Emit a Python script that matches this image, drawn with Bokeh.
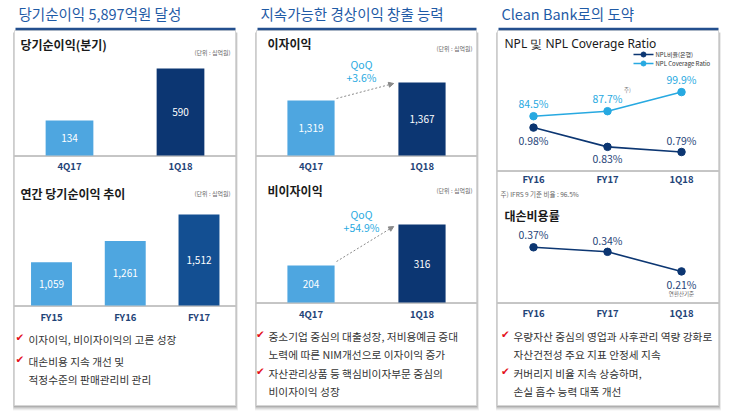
from bokeh.plotting import figure
from bokeh.models import Range1d, Arrow, NormalHead
from bokeh.embed import file_html
from bokeh.resources import INLINE
from bokeh.core.properties import value

# ---------------- data ----------------
quarters = ["4Q17", "1Q18"]
net_income_quarterly = [134, 590]
years = ["FY15", "FY16", "FY17"]
net_income_annual = [1059, 1261, 1512]
interest_income = [1319, 1367]
interest_qoq = "+3.6%"
non_interest_income = [204, 316]
non_interest_qoq = "+54.9%"
npl_periods = ["FY16", "FY17", "1Q18"]
npl_ratio = [0.98, 0.83, 0.79]
npl_coverage = [84.5, 87.7, 99.9]
credit_cost_ratio = [0.37, 0.34, 0.21]
ifrs9_coverage = 96.5

headers = ["당기순이익 5,897억원 달성", "지속가능한 경상이익 창출 능력", "Clean Bank로의 도약"]
subtitles = ["당기순이익(분기)", "연간 당기순이익 추이", "이자이익", "비이자이익",
             "NPL 및 NPL Coverage Ratio", "대손비용률"]
unit_text = "(단위 : 십억원)"
legend_labels = ["NPL비율(은행)", "NPL Coverage Ratio"]
bullets_left = [["이자이익, 비이자이익의 고른 성장"],
                ["대손비용 지속 개선 및", "적정수준의 판매관리비 관리"]]
bullets_mid = [["중소기업  중심의 대출성장, 저비용예금 증대", "노력에 따른  NIM개선으로 이자이익 증가"],
               ["자산관리상품 등 핵심비이자부문 중심의", "비이자이익 성장"]]
bullets_right = [["우량자산 중심의 영업과 사후관리 역량 강화로", "자산건전성 주요 지표 안정세 지속"],
                 ["커버리지 비율 지속 상승하며,", "손실 흡수 능력 대폭 개선"]]

# ---------------- styles ----------------
FONT = "Noto Sans CJK KR"
HEAD_BLUE = "#1f5ba6"
RULE_BLUE = "#234f8e"
NAVY = "#0c3672"
NAVY_TXT = "#1f4478"
LIGHT = "#4ea6e0"
FY17_C = "#134f92"
CYAN = "#27a9e1"
GRAY_LINE = "#8c8c8c"
TXT = "#333333"
RED = "#e4101c"

# screen frame (page pixel coordinates)
W, H = 730, 416
SX0, SX1, SY0, SY1 = 0, W, 0, H

p = figure(width=W, height=H, x_range=Range1d(SX0, SX1), y_range=Range1d(SY1, SY0),
           output_backend="svg", toolbar_location=None, min_border=0,
           x_axis_location=None, y_axis_location=None)
p.grid.visible = False
p.outline_line_color = None
p.background_fill_color = "white"
p.border_fill_color = "white"


def xrange_map(pa, pb, da, db):
    s = (db - da) / (pb - pa)
    return Range1d(start=da + (SX0 - pa) * s, end=da + (SX1 - pa) * s)


def yrange_map(pa, pb, da, db):
    s = (db - da) / (pb - pa)  # data per screen px (downwards)
    return Range1d(start=da + (SY1 - pa) * s, end=da + (SY0 - pa) * s), s


def txt(x, y, s, size, color, align="left", style="normal", font=FONT,
        xr="default", yr="default", baseline="middle"):
    if not isinstance(x, (list, tuple)):
        x, y, s = [x], [y], [s]
    p.text(x=list(x), y=list(y), text=list(s), text_font=value(font),
           text_font_size=f"{size}px", text_color=color, text_align=align,
           text_baseline=baseline, text_font_style=style,
           x_range_name=xr, y_range_name=yr)


# ---------------- sub-chart scales ----------------
bases = {"lt": -173, "lb": 650, "mt": 1172, "mb": 103}
xr = {
    "lt": xrange_map(69, 180, 0, 1),
    "lb": xrange_map(51, 198.5, 0, 2),
    "mt": xrange_map(310.5, 421.5, 0, 1),
    "mb": xrange_map(310.5, 421.5, 0, 1),
    "rt": xrange_map(533, 681, 0, 2),
    "rb": xrange_map(533, 681, 0, 2),
}
yr = {}
ys = {}
yr["lt"], ys["lt"] = yrange_map(155, 68, bases["lt"], max(net_income_quarterly))
yr["lb"], ys["lb"] = yrange_map(305, 214, bases["lb"], max(net_income_annual))
yr["mt"], ys["mt"] = yrange_map(155, 82, bases["mt"], max(interest_income))
yr["mb"], ys["mb"] = yrange_map(302, 224, bases["mb"], max(non_interest_income))
yr["cov"], ys["cov"] = yrange_map(115.7, 91.6, npl_coverage[0], npl_coverage[-1])
yr["npl"], ys["npl"] = yrange_map(127.1, 151.5, npl_ratio[0], npl_ratio[-1])
yr["cc"], ys["cc"] = yrange_map(246.8, 270.9, credit_cost_ratio[0], credit_cost_ratio[-1])
p.extra_x_ranges = {k: v for k, v in xr.items()}
p.extra_y_ranges = {k: v for k, v in yr.items()}

# ---------------- panels ----------------
panels = [(14, 235), (256, 476), (497, 718)]
for L, R in panels:
    for d, a in [(5, 0.05), (4, 0.06), (3, 0.08), (2, 0.10), (1, 0.13)]:
        p.quad(left=[L - 0.5 - d * 0.2], right=[R + d * 0.5], top=[32], bottom=[405 + d],
               fill_color="black", fill_alpha=a, line_color=None)
    p.quad(left=[L], right=[R], top=[30], bottom=[405], fill_color="white",
           line_color="#d6d6d6", line_width=1)
    p.segment(x0=[L + 1], x1=[R], y0=[28.5], y1=[28.5], line_color=RULE_BLUE, line_width=2.5)

# headers
for (L, R), h in zip(panels, headers):
    txt(L + 4, 12.5, h, 14.5, HEAD_BLUE)

# subtitles
txt(20, 44, subtitles[0], 12, "#1a1a1a", style="bold")
txt(20, 193, subtitles[1], 12, "#1a1a1a", style="bold")
txt(267, 43, subtitles[2], 12, "#1a1a1a", style="bold")
txt(267, 190, subtitles[3], 12, "#1a1a1a", style="bold")
txt(504, 43, subtitles[4], 12, "#1a1a1a", font="Noto Sans")
txt(504, 215, subtitles[5], 12, "#1a1a1a", style="bold")

# unit labels
for x, y in [(230, 52), (230, 193), (472, 48), (472, 190)]:
    txt(x, y, unit_text, 6, "#666666", align="right")

# baselines
for (x0, x1, y) in [(14, 235, 155.5), (14, 235, 305.5), (256, 476, 155.5), (256, 476, 302.5),
                    (497, 718, 170.5), (497, 718, 302.5)]:
    p.segment(x0=[x0], x1=[x1], y0=[y], y1=[y], line_color=GRAY_LINE, line_width=1)


# ---------------- bar charts ----------------
def bars(key, vals, cats, width, colors, cat_y):
    idx = list(range(len(vals)))
    p.vbar(x=idx, width=width, bottom=bases[key], top=vals, fill_color=colors,
           line_color=None, x_range_name=key, y_range_name=key)
    mids = [(bases[key] + v) / 2 for v in vals]
    txt(idx, mids, [f"{v:,}" for v in vals], 10, "white", align="center",
        xr=key, yr=key)
    txt(idx, [cat_y] * len(cats), cats, 9.5, NAVY_TXT, align="center", style="bold",
        xr=key)


bars("lt", net_income_quarterly, quarters, 0.43, [LIGHT, NAVY], 165.5)
bars("lb", net_income_annual, years, 0.555, [LIGHT, LIGHT, FY17_C], 316)
bars("mt", interest_income, quarters, 0.425, [LIGHT, NAVY], 165.5)
bars("mb", non_interest_income, quarters, 0.425, [LIGHT, NAVY], 313)


# QoQ arrows
def qoq(key, vals, off0, off1, label, ty):
    s = ys[key]
    arr = Arrow(x_start=0.23, y_start=vals[0] - off0 * s, x_end=0.745, y_end=vals[1] - off1 * s,
                line_color="#8a8a8a", line_width=1, line_dash="2 2",
                end=NormalHead(size=5, fill_color="#8a8a8a", line_color="#8a8a8a"),
                x_range_name=key, y_range_name=key)
    p.add_layout(arr)
    txt(361, ty, "QoQ", 10.5, CYAN, align="center")
    txt(361, ty + 13, label, 10.5, CYAN, align="center")


qoq("mt", interest_income, 2, -1, interest_qoq, 63.5)
qoq("mb", non_interest_income, 4, -2, non_interest_qoq, 213.5)

# ---------------- line charts ----------------
idx3 = list(range(len(npl_periods)))
p.line(idx3, npl_coverage, line_color=CYAN, line_width=1.6, x_range_name="rt", y_range_name="cov")
p.scatter(idx3, npl_coverage, size=7.5, fill_color=CYAN, line_color=CYAN, x_range_name="rt", y_range_name="cov")
p.line(idx3, npl_ratio, line_color=NAVY, line_width=1.6, x_range_name="rt", y_range_name="npl")
p.scatter(idx3, npl_ratio, size=7.5, fill_color=NAVY, line_color=NAVY, x_range_name="rt", y_range_name="npl")

cov_off = [-13, -13, -13]
txt(idx3, [v + o * ys["cov"] for v, o in zip(npl_coverage, cov_off)],
    [f"{v:.1f}%" for v in npl_coverage], 10.5, CYAN, align="center", xr="rt", yr="cov")
npl_off = [13, 12, -12]
txt(idx3, [v + o * ys["npl"] for v, o in zip(npl_ratio, npl_off)],
    [f"{v:.2f}%" for v in npl_ratio], 10.5, NAVY_TXT, align="center", xr="rt", yr="npl")
txt(627, 89, "주)", 5.5, "#777777", align="center")
txt(idx3, [178] * 3, npl_periods, 9.5, NAVY_TXT, align="center", style="bold", xr="rt")
txt(500, 193, f"주) IFRS 9 기준 비율 : {ifrs9_coverage}%", 6.5, "#666666")

# legend
for ly, col in [(54, NAVY), (63, CYAN)]:
    p.segment(x0=[633], x1=[653], y0=[ly], y1=[ly], line_color=col, line_width=1.5)
    p.scatter([643], [ly], size=5, fill_color=col, line_color=col)
txt(655, 54, legend_labels[0], 6, "#333333")
txt(655, 63, legend_labels[1], 6, "#333333")

# credit cost
p.line(idx3, credit_cost_ratio, line_color=NAVY, line_width=1.6, x_range_name="rb", y_range_name="cc")
p.scatter(idx3, credit_cost_ratio, size=7.5, fill_color=NAVY, line_color=NAVY, x_range_name="rb", y_range_name="cc")
cc_off = [-13, -11, 13]
txt(idx3, [v + o * ys["cc"] for v, o in zip(credit_cost_ratio, cc_off)],
    [f"{v:.2f}%" for v in credit_cost_ratio], 10.5, NAVY_TXT, align="center", xr="rb", yr="cc")
txt([2], [credit_cost_ratio[-1] + 23 * ys["cc"]], ["연환산기준"], 5.5, "#666666",
    align="center", xr="rb", yr="cc")
txt(idx3, [312.5] * 3, npl_periods, 9.5, NAVY_TXT, align="center", style="bold", xr="rb")


# ---------------- bullets ----------------
def bullet_block(items, x_chk, x_txt, rows):
    r = 0
    for item in items:
        txt(x_chk, rows[r] - 3, "✔", 10.5, RED, align="center", font="DejaVu Sans")
        for line in item:
            txt(x_txt, rows[r], line, 10.7, TXT)
            r += 1


bullet_block(bullets_left, 19.5, 28, [339, 361, 379])
bullet_block(bullets_mid, 260, 268, [336, 353.5, 373, 391])
bullet_block(bullets_right, 505, 513, [336, 353.5, 373, 391])

open("out.html", "w").write(file_html(p, INLINE))
